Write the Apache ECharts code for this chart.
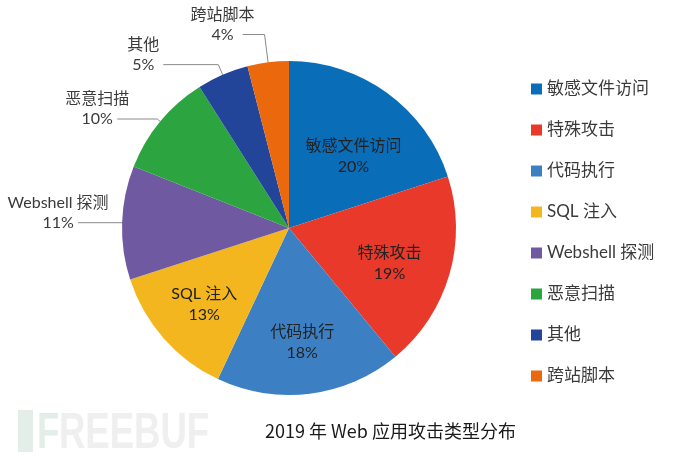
<!DOCTYPE html>
<html>
<head>
<meta charset="utf-8">
<script src="https://cdn.jsdelivr.net/npm/echarts@6/dist/echarts.min.js"></script>
<style>
html,body{margin:0;padding:0;background:#fff;}
#c{width:690px;height:459px;}
</style>
</head>
<body>
<div id="c"></div>
<script>
// ---- data ----
const categories = ['敏感文件访问', '特殊攻击', '代码执行', 'SQL 注入', 'Webshell 探测', '恶意扫描', '其他', '跨站脚本'];
const shares = [20, 19, 18, 13, 11, 10, 5, 4];
const titleText = '2019 年 Web 应用攻击类型分布';

// ---- style ----
const colors = ['#0A6DB8', '#E8392A', '#3C80C3', '#F4B61E', '#6F5AA2', '#2CA43F', '#22459A', '#EB690C'];
const labelInside = [true, true, true, true, false, false, false, false];
const lineLen = [0, 0, 0, 0, 2, 4, 11, 28];
const lineLen2 = [0, 0, 0, 0, 42, 40, 55, 22];
const insideOffset = [[-2, 20], [-8, 4], [-1, 2], [0, 2], [0, 0], [0, 0], [0, 0], [0, 0]];

const FONT = 'Lato, "Noto Sans CJK SC", sans-serif';

const mainData = categories.map((name, i) => ({
  name: name,
  value: shares[i],
  itemStyle: { color: colors[i] },
  label: { show: !labelInside[i] },
  labelLine: { show: !labelInside[i], length: lineLen[i], length2: lineLen2[i] }
}));

const overlayData = categories.map((name, i) => ({
  name: name,
  value: shares[i],
  label: { show: labelInside[i], offset: insideOffset[i] }
}));

const chart = echarts.init(document.getElementById('c'), null, { renderer: 'canvas' });
chart.setOption({
  backgroundColor: '#fff',
  animation: false,
  color: colors,
  title: {
    text: titleText,
    left: 265,
    top: 421,
    padding: 0,
    textStyle: { fontFamily: '"Noto Sans CJK SC", sans-serif', fontSize: 18, fontWeight: 'normal', color: '#1a1a1a', lineHeight: 20 }
  },
  legend: {
    orient: 'vertical',
    left: 526,
    top: 74,
    icon: 'rect',
    itemWidth: 11,
    itemHeight: 11,
    itemGap: 21,
    itemTextGap: 11,
    data: categories,
    textStyle: { fontFamily: FONT, fontSize: 17, color: '#3a3a3a', lineHeight: 20 }
  },
  graphic: [
    { type: 'rect', left: 18, top: 410, shape: { width: 15, height: 42 }, style: { fill: '#e3eee9' }, silent: true, z: -10 },
    { type: 'text', x: 37, y: 434, scaleX: 0.73, silent: true, z: -10,
      style: { text: 'F', font: 'bold 50px "Liberation Sans", sans-serif', fill: '#e3eee9', verticalAlign: 'middle' } },
    { type: 'text', x: 59, y: 434, scaleX: 0.73, silent: true, z: -10,
      style: { text: 'REEBUF', font: 'bold 50px "Liberation Sans", sans-serif', fill: '#efefef', verticalAlign: 'middle' } }
  ],
  series: [
    {
      type: 'pie',
      center: [289, 228],
      radius: [0, 167],
      startAngle: 90,
      clockwise: true,
      avoidLabelOverlap: false,
      labelLayout: { hideOverlap: false },
      data: mainData,
      itemStyle: { borderWidth: 0 },
      emphasis: { disabled: true },
      label: {
        position: 'outside',
        distanceToLabelLine: 6,
        formatter: '{n|{b}}\n{p|{c}%}\n{e| }',
        rich: {
          n: { fontFamily: FONT, fontSize: 16, color: '#3a3a3a', lineHeight: 20, width: 28, align: 'center' },
          p: { fontFamily: FONT, fontSize: 16, color: '#3a3a3a', lineHeight: 20, width: 28, align: 'center' },
          e: { fontSize: 16, lineHeight: 20 }
        }
      },
      labelLine: { lineStyle: { color: '#8a8a8a', width: 1 }, smooth: false }
    },
    {
      type: 'pie',
      center: [289, 228],
      radius: [98, 122],
      startAngle: 90,
      clockwise: true,
      silent: true,
      avoidLabelOverlap: false,
      labelLayout: { hideOverlap: false },
      data: overlayData,
      itemStyle: { color: 'rgba(0,0,0,0)', borderWidth: 0 },
      emphasis: { disabled: true },
      labelLine: { show: false },
      label: {
        position: 'inside',
        formatter: '{b}\n{c}%',
        fontFamily: FONT,
        fontSize: 16,
        lineHeight: 21,
        color: '#222',
        align: 'center'
      }
    }
  ]
});
</script>
</body>
</html>
